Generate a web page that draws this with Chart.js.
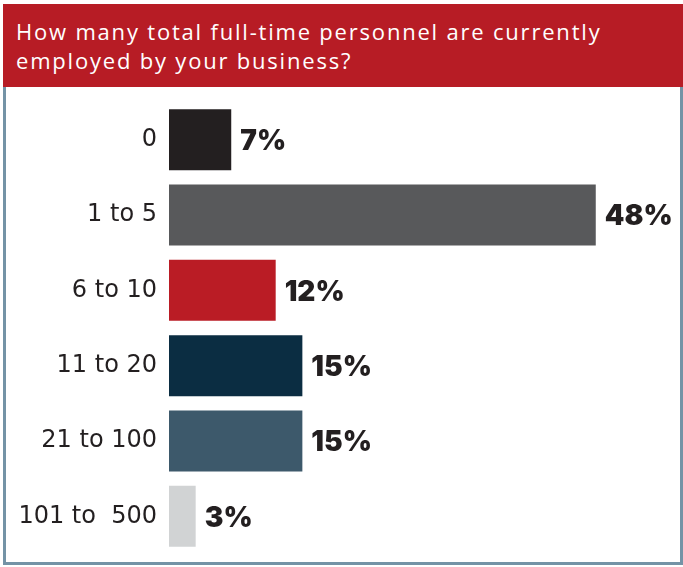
<!DOCTYPE html>
<html>
<head>
<meta charset="utf-8">
<script src="https://cdn.jsdelivr.net/npm/chart.js@4/dist/chart.umd.min.js"></script>
<style>
  html, body { margin: 0; padding: 0; background: #ffffff; }
  #wrap { position: relative; width: 683px; height: 567px; overflow: hidden; }
  #head {
    position: absolute; left: 3px; top: 4px; width: 680px; height: 83px;
    background: #b71c25; color: #ffffff;
    font-family: "Open Sans", sans-serif; font-size: 22px; line-height: 29px;
    letter-spacing: 1.8px;
    box-sizing: border-box; padding: 13px 0 0 13px;
  }
  #box {
    position: absolute; left: 3px; top: 87px; width: 680px; height: 478px;
    box-sizing: border-box; border: 3px solid #7493a6; border-top: none;
  }
  #chart { position: absolute; left: 0; top: 0; }
</style>
</head>
<body>
<div id="wrap">
  <div id="head">How many total full-time personnel are currently<br>employed by your business?</div>
  <div id="box"></div>
  <canvas id="chart" width="683" height="567"></canvas>
</div>
<script>
// Headcount buckets and share of respondents (%)
const categories = ['0', '1 to 5', '6 to 10', '11 to 20', '21 to 100', '101 to  500'];
const shares = [7, 48, 12, 15, 15, 3];
const barColors = ['#231f20', '#58595b', '#ba1c25', '#0b2d42', '#3d596b', '#d1d3d4'];

// Writes "NN%" just past the end of every bar
const valueLabels = {
    id: 'valueLabels',
    afterDatasetsDraw(chart) {
        const ctx = chart.ctx;
        const meta = chart.getDatasetMeta(0);
        ctx.save();
        ctx.font = '900 28px Inter, Lato, "DejaVu Sans", sans-serif';
        ctx.fillStyle = '#231f20';
        ctx.textAlign = 'left';
        ctx.textBaseline = 'middle';
        meta.data.forEach((bar, i) => {
            ctx.fillText(shares[i] + '%', bar.x + 9, bar.y + 2);
        });
        ctx.restore();
    }
};

new Chart(document.getElementById('chart'), {
    type: 'bar',
    data: {
        labels: categories,
        datasets: [{
            data: shares,
            backgroundColor: barColors,
            borderWidth: 0,
            barPercentage: 0.81,
            categoryPercentage: 1
        }]
    },
    options: {
        indexAxis: 'y',
        responsive: false,
        animation: false,
        layout: { padding: { top: 102, bottom: 13, left: 0, right: 25 } },
        plugins: { legend: { display: false }, tooltip: { enabled: false }, title: { display: false } },
        scales: {
            x: { display: false, min: 0, max: 55 },
            y: {
                // fixed label column; bars start at the same x on every row
                afterFit(scale) {
                    scale.width = 169;
                    scale.paddingTop = 0;
                    scale.paddingBottom = 0;
                },
                grid: { display: false, drawTicks: false },
                border: { display: false },
                ticks: {
                    padding: 12,
                    color: '#231f20',
                    font: { family: '"DejaVu Sans", sans-serif', size: 24 }
                }
            }
        }
    },
    plugins: [valueLabels]
});
</script>
</body>
</html>
